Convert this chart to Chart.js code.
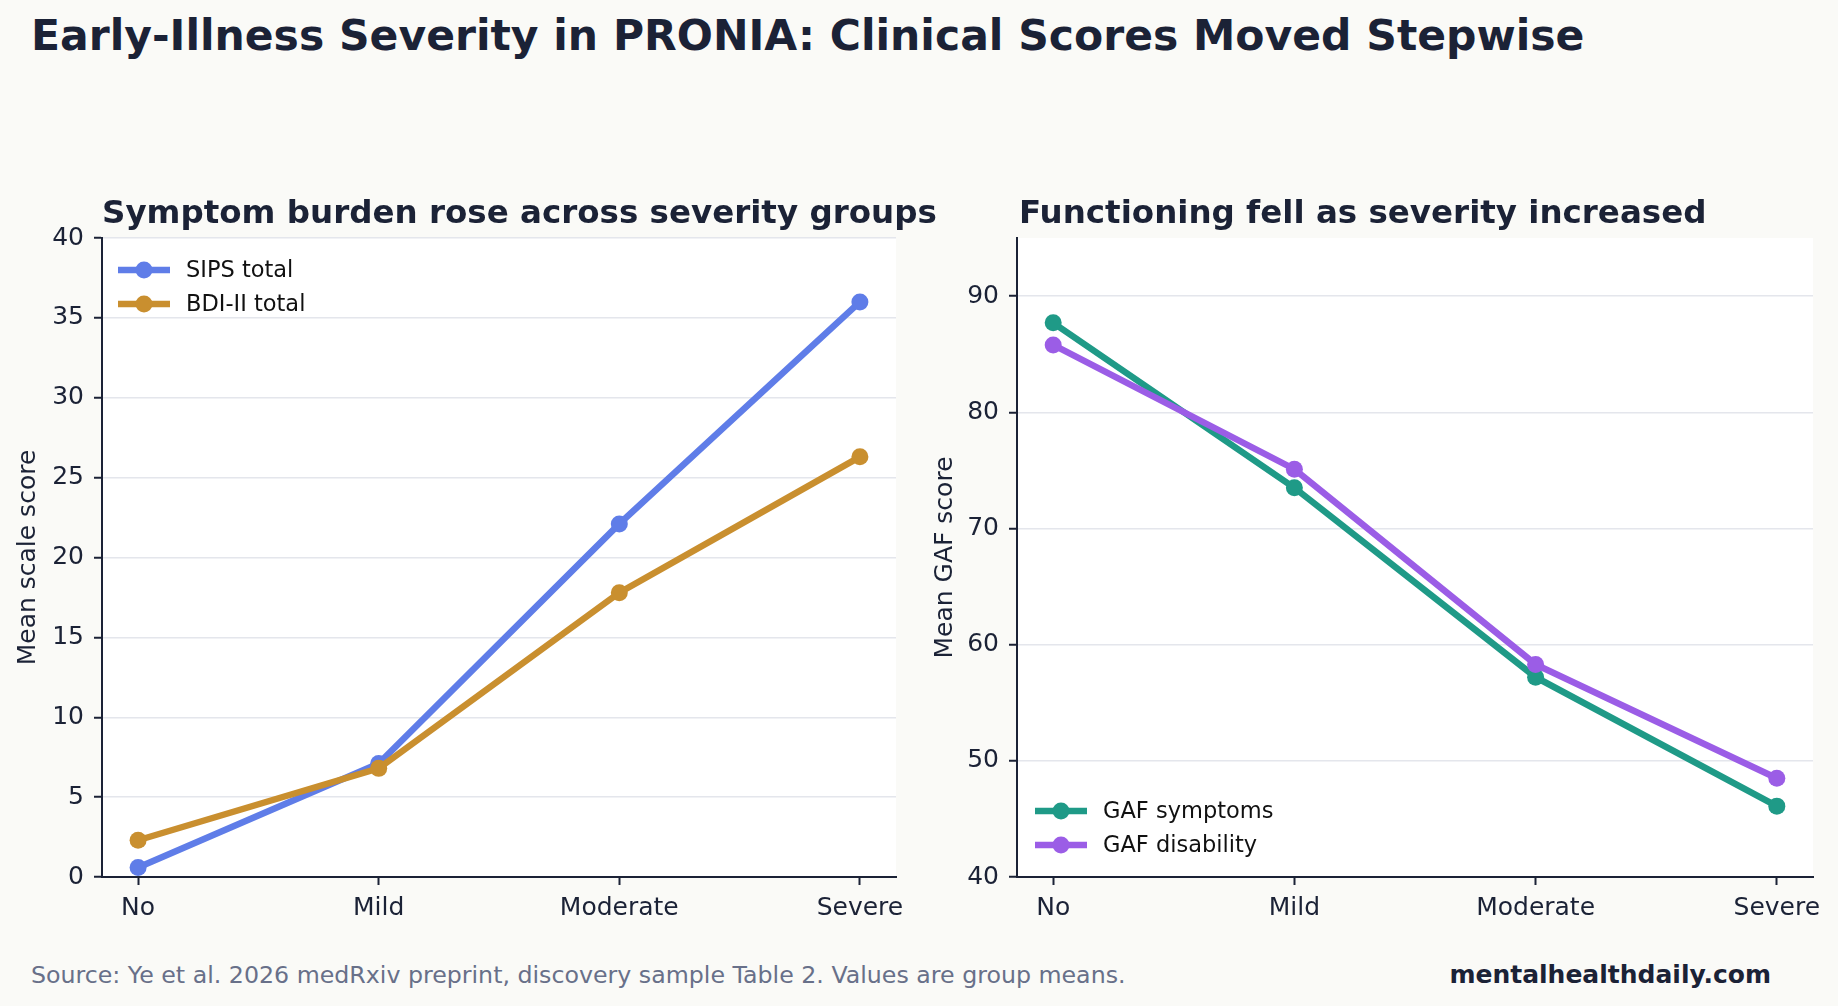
<!DOCTYPE html>
<html>
<head>
<meta charset="utf-8">
<script src="https://cdn.jsdelivr.net/npm/chart.js@4.4.1/dist/chart.umd.min.js"></script>
<style>
  html, body { margin: 0; padding: 0; }
  body { width: 1838px; height: 1006px; background: #fafaf7; position: relative; overflow: hidden;
         font-family: "DejaVu Sans", sans-serif; color: #1b2236; }
  #mainTitle { position: absolute; left: 31px; top: 14px; font-size: 42.5px; font-weight: bold; line-height: 44px; white-space: nowrap; }
  .panelTitle { position: absolute; top: 193px; font-size: 32.5px; font-weight: bold; line-height: 38px; white-space: nowrap; }
  #source { position: absolute; left: 31px; top: 962px; font-size: 23.7px; line-height: 26px; color: #687089; white-space: nowrap; }
  #brand { position: absolute; right: 67px; top: 962px; font-size: 25px; line-height: 26px; font-weight: bold; white-space: nowrap; }
  #leftChart { position: absolute; left: 0; top: 170px; }
  #rightChart { position: absolute; left: 920px; top: 170px; }
</style>
</head>
<body>
<div id="mainTitle">Early-Illness Severity in PRONIA: Clinical Scores Moved Stepwise</div>
<canvas id="leftChart" width="920" height="770"></canvas>
<canvas id="rightChart" width="918" height="770"></canvas>
<div class="panelTitle" style="left:102px">Symptom burden rose across severity groups</div>
<div class="panelTitle" style="left:1019px">Functioning fell as severity increased</div>
<div id="source">Source: Ye et al. 2026 medRxiv preprint, discovery sample Table 2. Values are group means.</div>
<div id="brand">mentalhealthdaily.com</div>
<script>
// severity groups on the x axis
const severityGroups = ['No', 'Mild', 'Moderate', 'Severe'];

// left panel: symptom scales
const sipsTotal = [0.6, 7.1, 22.1, 36.0];
const bdiTotal = [2.3, 6.8, 17.8, 26.3];

// right panel: GAF scores
const gafSymptoms = [87.7, 73.5, 57.2, 46.1];
const gafDisability = [85.8, 75.1, 58.3, 48.5];

const leftTicks = [0, 5, 10, 15, 20, 25, 30, 35, 40];
const rightTicks = [40, 50, 60, 70, 80, 90];

const ink = '#1b2236';
const gridColor = '#e4e6ec';
const font = '"DejaVu Sans", sans-serif';

Chart.defaults.font.family = font;
Chart.defaults.color = ink;

function toPoints(values) {
    return values.map((v, i) => ({ x: i, y: v }));
}

function lineSet(label, values, color, order) {
    return {
        label: label,
        data: toPoints(values),
        borderColor: color,
        backgroundColor: color,
        borderWidth: 6.5,
        pointRadius: 8.5,
        pointHoverRadius: 8.5,
        pointBorderWidth: 0,
        tension: 0,
        order: order
    };
}

// white plot background like the reference
const plotBackground = {
    id: 'plotBackground',
    beforeDraw(chart) {
        const a = chart.chartArea;
        const ctx = chart.ctx;
        ctx.save();
        ctx.fillStyle = '#ffffff';
        ctx.fillRect(a.left, a.top, a.right - a.left, a.bottom - a.top);
        ctx.restore();
    }
};

// legend drawn inside the plot (line + marker), corner set per chart
const innerLegend = {
    id: 'innerLegend',
    afterDatasetsDraw(chart, args, opts) {
        const a = chart.chartArea;
        const ctx = chart.ctx;
        const sets = chart.data.datasets;
        const rowGap = 34;
        let y0 = opts.corner === 'bottom'
            ? a.bottom - 32 - (sets.length - 1) * rowGap
            : a.top + 32;
        ctx.save();
        ctx.font = '22.5px ' + font;
        ctx.textBaseline = 'middle';
        sets.forEach((ds, i) => {
            const y = y0 + i * rowGap;
            const x1 = a.left + opts.offset;
            const x2 = x1 + 52;
            ctx.strokeStyle = ds.borderColor;
            ctx.lineWidth = 6.5;
            ctx.beginPath();
            ctx.moveTo(x1, y);
            ctx.lineTo(x2, y);
            ctx.stroke();
            ctx.fillStyle = ds.borderColor;
            ctx.beginPath();
            ctx.arc((x1 + x2) / 2, y, 8.5, 0, Math.PI * 2);
            ctx.fill();
            ctx.fillStyle = '#111111';
            ctx.fillText(ds.label, x2 + 16, y + 1);
        });
        ctx.restore();
    }
};

function makeOptions(cfg) {
    return {
        responsive: false,
        animation: false,
        events: [],
        layout: { padding: { left: 0, right: cfg.padRight, top: 68, bottom: 0 } },
        plugins: {
            legend: { display: false },
            tooltip: { enabled: false },
            title: { display: false },
            innerLegend: { corner: cfg.legendCorner, offset: cfg.legendOffset }
        },
        scales: {
            x: {
                type: 'linear',
                min: -0.15,
                max: 3.15,
                afterBuildTicks: s => { s.ticks = severityGroups.map((g, i) => ({ value: i })); },
                afterFit: s => { s.height = 63; },
                ticks: {
                    callback: v => severityGroups[v],
                    font: { size: 25 },
                    color: ink,
                    padding: 8,
                    maxRotation: 0,
                    autoSkip: false
                },
                grid: { drawOnChartArea: false, drawTicks: true, tickLength: 8, tickColor: ink, tickWidth: 2 },
                border: { display: true, color: ink, width: 2 }
            },
            y: {
                min: cfg.yMin,
                max: cfg.yMax,
                afterBuildTicks: s => { s.ticks = cfg.yTicks.map(v => ({ value: v })); },
                afterFit: s => { s.width = cfg.yWidth; },
                ticks: { font: { size: 25 }, color: ink, padding: 10 },
                grid: { color: gridColor, lineWidth: 1.5, drawTicks: true, tickLength: 8, tickColor: ink, tickWidth: 2 },
                border: { display: true, color: ink, width: 2 },
                title: {
                    display: true,
                    text: cfg.yTitle,
                    font: { size: 25 },
                    color: ink,
                    padding: { top: cfg.yTitlePad, bottom: 0 }
                }
            }
        }
    };
}

new Chart(document.getElementById('leftChart'), {
    type: 'line',
    data: {
        datasets: [
            lineSet('SIPS total', sipsTotal, '#5f7de8', 1),
            lineSet('BDI-II total', bdiTotal, '#c98f2f', 0)
        ]
    },
    options: makeOptions({
        yTitle: 'Mean scale score',
        yMin: 0, yMax: 40, yTicks: leftTicks,
        yWidth: 102, yTitlePad: 13, padRight: 24,
        legendCorner: 'top', legendOffset: 16
    }),
    plugins: [plotBackground, innerLegend]
});

new Chart(document.getElementById('rightChart'), {
    type: 'line',
    data: {
        datasets: [
            lineSet('GAF symptoms', gafSymptoms, '#1f9a87', 1),
            lineSet('GAF disability', gafDisability, '#9b5de6', 0)
        ]
    },
    options: makeOptions({
        yTitle: 'Mean GAF score',
        yMin: 40, yMax: 95, yTicks: rightTicks,
        yWidth: 97, yTitlePad: 10, padRight: 25,
        legendCorner: 'bottom', legendOffset: 18
    }),
    plugins: [plotBackground, innerLegend]
});
</script>
</body>
</html>
